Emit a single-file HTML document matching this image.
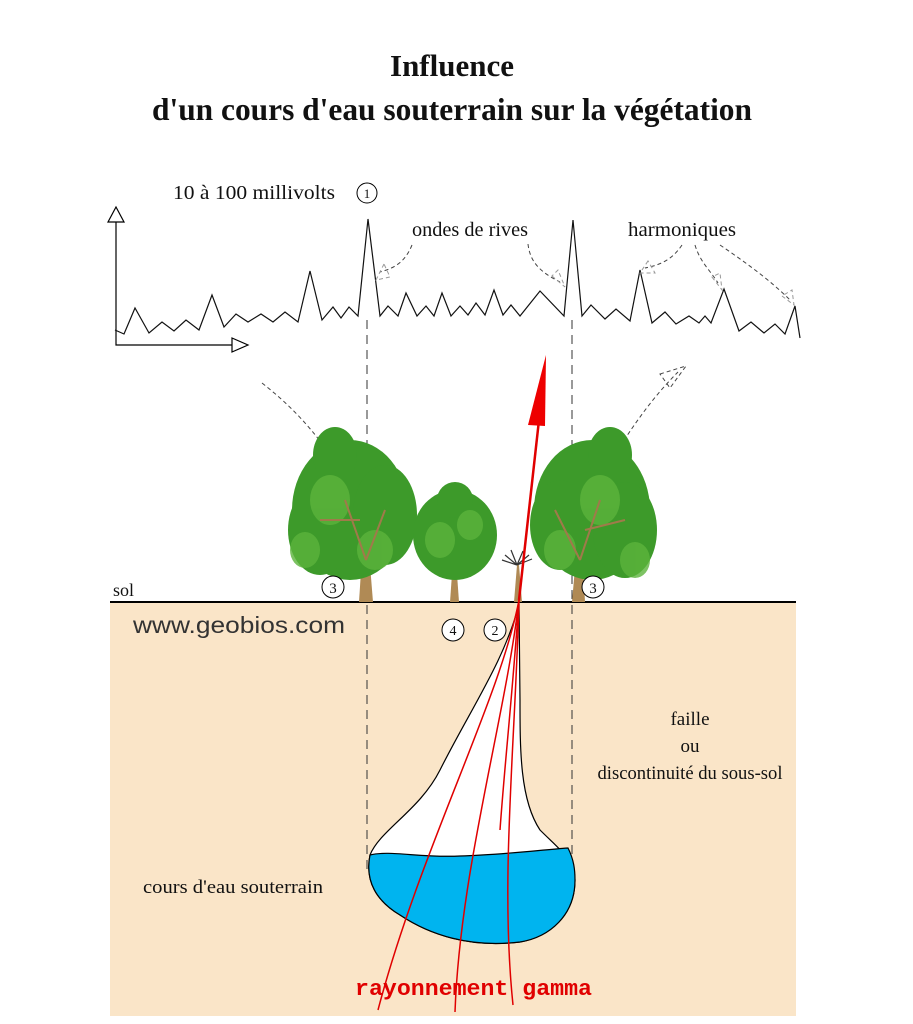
<!DOCTYPE html>
<html><head><meta charset="utf-8"><style>
html,body{margin:0;padding:0;background:#fff}
svg{display:block}
.s{font-family:"Liberation Serif",serif;fill:#111}
</style></head><body>
<svg width="913" height="1024" viewBox="0 0 913 1024" xmlns="http://www.w3.org/2000/svg">
<text x="452" y="76" text-anchor="middle" class="s" style="font-size:31px;font-weight:bold">Influence</text>
<text x="452" y="120" text-anchor="middle" class="s" style="font-size:31.5px;font-weight:bold" textLength="600" lengthAdjust="spacingAndGlyphs">d'un cours d'eau souterrain sur la végétation</text>

<!-- ground -->
<rect x="110" y="602" width="686" height="414" fill="#fae5c8"/>
<line x1="110" y1="602" x2="796" y2="602" stroke="#000" stroke-width="2"/>

<!-- axes -->
<polyline points="116,222 116,345 232,345" fill="none" stroke="#000" stroke-width="1.2"/>
<polygon points="108,222 124,222 116,207" fill="#fff" stroke="#000" stroke-width="1.2"/>
<polygon points="232,338 232,352 248,345" fill="#fff" stroke="#000" stroke-width="1.2"/>

<polyline fill="none" stroke="#111" stroke-width="1.2" points="115,330 124,334 135,308 149,333 162,322 174,331 186,320 199,330 212,295 224,327 236,314 248,322 261,314 273,322 285,312 298,322 310,271 322,320 333,307 341,318 349,307 358,316 368,219 380,316 388,306 398,316 406,293 417,316 426,306 434,316 442,293 451,316 460,306 468,315 476,303 485,315 494,290 503,315 511,305 520,316 540,291 564,316 573,220 582,316 591,305 605,319 616,309 630,321 640,270 652,323 665,312 676,324 689,316 699,323 705,316 711,323 724,289 739,331 751,322 764,333 775,324 785,334 795,306 800,338"/>

<text x="173" y="199" class="s" style="font-size:20px" textLength="162" lengthAdjust="spacingAndGlyphs">10 à 100 millivolts</text>
<circle cx="367" cy="193" r="10" fill="#fff" stroke="#000"/>
<text x="367" y="198" text-anchor="middle" class="s" style="font-size:13px">1</text>
<text x="412" y="236" class="s" style="font-size:20px" textLength="116" lengthAdjust="spacingAndGlyphs">ondes de rives</text>
<text x="628" y="236" class="s" style="font-size:20px" textLength="108" lengthAdjust="spacingAndGlyphs">harmoniques</text>

<!-- dashed annotation arrows -->
<g fill="none" stroke="#444" stroke-width="1" stroke-dasharray="4,3">
<path d="M412,245 C405,262 395,268 380,272"/>
<path d="M528,244 C530,262 540,272 560,282"/>
<path d="M682,245 C672,260 660,265 645,268"/>
<path d="M695,245 C700,262 710,270 718,283"/>
<path d="M720,245 C745,262 770,280 790,300"/>
<polygon points="384,264 376,280 390,277" stroke="#999"/>
<polygon points="552,276 565,287 558,270" stroke="#999"/>
<polygon points="648,261 640,273 655,273" stroke="#999"/>
<polygon points="712,277 722,290 720,273" stroke="#999"/>
<polygon points="782,296 794,305 792,290" stroke="#999"/>
<path d="M262,383 C290,405 315,430 340,470"/>
<path d="M605,470 C630,430 650,400 678,372"/>
<polygon points="660,374 686,366 670,388" stroke="#444"/>
</g>

<!-- vertical dashed lines -->
<g stroke="#333" stroke-width="1" stroke-dasharray="9,6">
<line x1="367" y1="320" x2="367" y2="870"/>
<line x1="572" y1="320" x2="572" y2="870"/>
</g>

<!-- trees -->
<g>
<polygon points="359,602 373,602 368,540 363,540" fill="#b08a55"/>
<g fill="#3d9a2a">
<ellipse cx="350" cy="510" rx="58" ry="70"/>
<ellipse cx="320" cy="530" rx="32" ry="45"/>
<ellipse cx="385" cy="515" rx="32" ry="50"/>
<ellipse cx="335" cy="455" rx="22" ry="28"/>
</g>
<g fill="#5cb43c" opacity="0.8"><ellipse cx="330" cy="500" rx="20" ry="25"/><ellipse cx="375" cy="550" rx="18" ry="20"/><ellipse cx="305" cy="550" rx="15" ry="18"/></g>
<path d="M366,560 L345,500 M366,560 L385,510 M360,520 L320,520" stroke="#a07a4a" stroke-width="2" fill="none"/>

<polygon points="450,602 459,602 456,560 453,560" fill="#b08a55"/>
<g fill="#3d9a2a">
<ellipse cx="455" cy="535" rx="42" ry="45"/>
<ellipse cx="455" cy="500" rx="18" ry="18"/>
</g>
<g fill="#5cb43c" opacity="0.8"><ellipse cx="440" cy="540" rx="15" ry="18"/><ellipse cx="470" cy="525" rx="13" ry="15"/></g>

<polygon points="572,602 585,602 582,545 577,545" fill="#b08a55"/>
<g fill="#3d9a2a">
<ellipse cx="592" cy="510" rx="58" ry="70"/>
<ellipse cx="560" cy="525" rx="30" ry="45"/>
<ellipse cx="625" cy="530" rx="32" ry="48"/>
<ellipse cx="610" cy="455" rx="22" ry="28"/>
</g>
<g fill="#5cb43c" opacity="0.8"><ellipse cx="600" cy="500" rx="20" ry="25"/><ellipse cx="560" cy="550" rx="16" ry="20"/><ellipse cx="635" cy="560" rx="15" ry="18"/></g>
<path d="M580,560 L600,500 M580,560 L555,510 M585,530 L625,520" stroke="#a07a4a" stroke-width="2" fill="none"/>

<polygon points="514,602 522,602 519,565 517,565" fill="#b08a55"/>
<path d="M517,565 l-15,-5 M517,565 l15,-6 M517,565 l-6,-15 M517,565 l6,-14 M517,565 l-12,-10 M517,565 l12,-10" stroke="#333" stroke-width="1.2"/>
</g>

<text x="113" y="596" class="s" style="font-size:18px">sol</text>
<circle cx="333" cy="587" r="11" fill="#fff" stroke="#000"/>
<text x="333" y="593" text-anchor="middle" class="s" style="font-size:15px">3</text>
<circle cx="593" cy="587" r="11" fill="#fff" stroke="#000"/>
<text x="593" y="593" text-anchor="middle" class="s" style="font-size:15px">3</text>
<text x="133" y="633" style="font-family:'Liberation Sans',sans-serif;font-size:23px;fill:#333" textLength="212" lengthAdjust="spacingAndGlyphs">www.geobios.com</text>
<circle cx="453" cy="630" r="11" fill="#fff" stroke="#000"/>
<text x="453" y="635" text-anchor="middle" class="s" style="font-size:14px">4</text>
<circle cx="495" cy="630" r="11" fill="#fff" stroke="#000"/>
<text x="495" y="635" text-anchor="middle" class="s" style="font-size:14px">2</text>

<!-- funnel -->
<path d="M519,604 C505,660 470,710 440,770 C420,810 380,830 370,855 C365,880 375,900 400,915 C430,935 470,948 520,942 C550,937 575,915 575,880 C575,860 560,850 540,830 C520,800 520,750 520,700 Z" fill="#fff" stroke="#000" stroke-width="1.2"/>
<path d="M370,855 C390,850 420,858 460,856 C500,855 540,850 568,848 C574,860 575,870 575,880 C575,915 550,937 520,942 C470,948 430,935 400,915 C375,900 365,880 370,855 Z" fill="#00b4ef" stroke="#000" stroke-width="1.2"/>

<!-- gamma rays -->
<g fill="none" stroke="#e00000" stroke-width="1.5">
<path d="M519,600 C500,700 420,850 378,1010"/>
<path d="M519,600 C505,720 460,870 455,1012"/>
<path d="M519,600 C515,750 500,880 513,1005"/>
<path d="M519,600 C512,700 505,760 500,830"/>
</g>
<line x1="519" y1="600" x2="539" y2="420" stroke="#e00000" stroke-width="2.5"/>
<polygon points="528,425 546,355 545,426" fill="#ee0000"/>

<text x="355" y="995" style="font-family:'Liberation Mono',monospace;font-size:22px;font-weight:bold;fill:#e00000" textLength="237" lengthAdjust="spacingAndGlyphs">rayonnement gamma</text>
<text x="690" y="725" text-anchor="middle" class="s" style="font-size:19px">faille</text>
<text x="690" y="752" text-anchor="middle" class="s" style="font-size:19px">ou</text>
<text x="690" y="779" text-anchor="middle" class="s" style="font-size:19px" textLength="185" lengthAdjust="spacingAndGlyphs">discontinuité du sous-sol</text>
<text x="143" y="893" class="s" style="font-size:19px" textLength="180" lengthAdjust="spacingAndGlyphs">cours d'eau souterrain</text>
</svg>
</body></html>
